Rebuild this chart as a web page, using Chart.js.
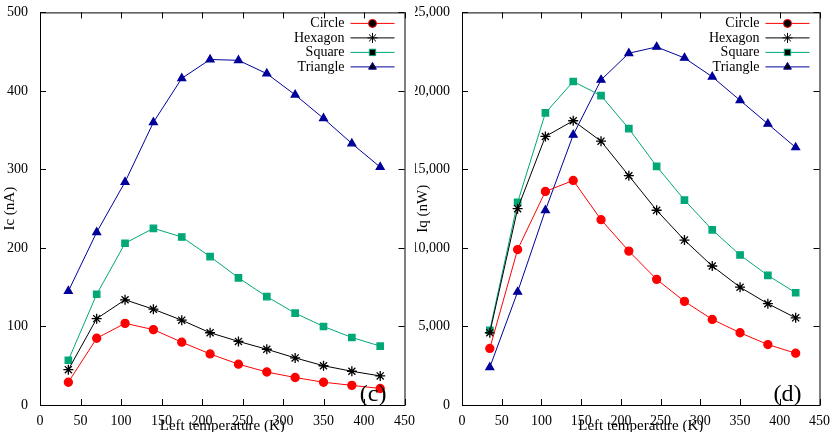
<!DOCTYPE html>
<html><head><meta charset="utf-8">
<script src="https://cdn.jsdelivr.net/npm/chart.js@4.4.0/dist/chart.umd.min.js"></script>
<style>
body{margin:0;background:#fff;width:830px;height:432px;overflow:hidden;font-family:"Liberation Serif",serif}
.w{position:absolute;top:0;height:432px;width:415px}
</style></head><body>
<div class="w" style="left:0"><canvas id="c1"></canvas></div>
<div class="w" style="left:415px"><canvas id="c2"></canvas></div>
<script>
const temps = [35, 70, 105, 140, 175, 210, 245, 280, 315, 350, 385, 420];
const seriesNames = ['Circle', 'Hexagon', 'Square', 'Triangle'];
const icCircle   = [29, 85, 104, 96, 80, 65, 52, 42, 35, 29, 25, 21];
const icHexagon  = [45, 110, 134, 122, 108, 92, 81, 71, 60, 50, 43, 37];
const icSquare   = [57, 141, 206, 225, 214, 189, 162, 138, 117, 100, 86, 75];
const icTriangle = [145, 220, 284, 360, 416, 440, 439, 422, 395, 365, 333, 303];
const iqCircle   = [3600, 9900, 13600, 14300, 11800, 9800, 8000, 6600, 5450, 4600, 3850, 3300];
const iqHexagon  = [4600, 12500, 17100, 18100, 16800, 14600, 12400, 10500, 8850, 7500, 6450, 5550];
const iqSquare   = [4750, 12900, 18600, 20600, 19700, 17600, 15200, 13050, 11150, 9550, 8250, 7150];
const iqTriangle = [2400, 7200, 12400, 17200, 20700, 22400, 22800, 22100, 20900, 19400, 17900, 16400];

const STYLES = [
  { color: '#ff0000', point: 'circle', r: 4 },
  { color: '#000000', point: 'star', r: 5 },
  { color: '#00a878', point: 'rect', r: 4.5 },
  { color: '#00009a', point: 'triangle', r: 4.5 },
];
const FONT = 'Liberation Serif';

// gnuplot-like frame, inward ticks, legend, axis titles, panel tag
const framePlugin = {
  id: 'frame',
  afterDraw(chart, args, o) {
    const { ctx, chartArea: a, scales: { x, y } } = chart;
    ctx.save();
    ctx.strokeStyle = '#000'; ctx.lineWidth = 1;
    ctx.strokeRect(a.left + 0.5, a.top + 0.5, a.right - a.left, a.bottom - a.top);
    ctx.beginPath();
    x.ticks.forEach(t => {
      const px = Math.round(x.getPixelForValue(t.value)) + 0.5;
      ctx.moveTo(px, a.bottom); ctx.lineTo(px, a.bottom - 6);
      ctx.moveTo(px, a.top); ctx.lineTo(px, a.top + 6);
    });
    y.ticks.forEach(t => {
      const py = Math.round(y.getPixelForValue(t.value)) + 0.5;
      ctx.moveTo(a.left, py); ctx.lineTo(a.left + 6, py);
      ctx.moveTo(a.right, py); ctx.lineTo(a.right - 6, py);
    });
    ctx.stroke();
    // legend
    ctx.font = `14px "${FONT}"`; ctx.textAlign = 'right'; ctx.textBaseline = 'middle';
    chart.data.datasets.forEach((ds, i) => {
      const ly = a.top + 11 + i * 14.5;
      const lx = a.right - 10;
      ctx.fillStyle = '#000';
      ctx.fillText(ds.label, lx - 50, ly);
      ctx.strokeStyle = ds.borderColor; ctx.lineWidth = 1;
      ctx.beginPath(); ctx.moveTo(lx - 44, ly); ctx.lineTo(lx, ly); ctx.stroke();
      Chart.helpers.drawPoint(ctx, { pointStyle: ds.pointStyle, radius: ds.pointRadius, borderWidth: 1.3 }, lx - 22, ly);
    });
    ctx.fillStyle = '#000'; ctx.font = `15px "${FONT}"`; ctx.textAlign = 'center';
    ctx.fillText('Left temperature (K)', (a.left + a.right) / 2, 426);
    ctx.save(); ctx.translate(o.ytx, (a.top + a.bottom) / 2); ctx.rotate(-Math.PI / 2);
    ctx.fillText(o.ytitle, 0, 0); ctx.restore();
    ctx.font = `24px "${FONT}"`; ctx.textAlign = 'right'; ctx.textBaseline = 'alphabetic';
    ctx.fillText(o.tag, a.right - 18, a.bottom - 4);
    ctx.restore();
  }
};

function makeChart(id, data, yMax, yStep, yAxisW, padRight, ytitle, ytx, tag) {
  const datasets = data.map((d, i) => ({
    label: seriesNames[i],
    data: temps.map((t, j) => ({ x: t, y: d[j] })),
    borderColor: STYLES[i].color,
    backgroundColor: STYLES[i].color,
    pointStyle: STYLES[i].point,
    pointRadius: STYLES[i].r,
    pointBorderWidth: 1.3,
    borderWidth: 1,
    tension: 0,
  }));
  const tickFont = { family: FONT, size: 14 };
  return new Chart(document.getElementById(id), {
    type: 'line',
    data: { datasets },
    plugins: [framePlugin],
    options: {
      responsive: true, maintainAspectRatio: false, animation: false,
      layout: { padding: { top: 8, right: padRight, left: 0, bottom: 0 } },
      plugins: { legend: { display: false }, tooltip: { enabled: false },
        frame: { ytitle, ytx, tag } },
      scales: {
        x: { type: 'linear', min: 0, max: 450,
          ticks: { stepSize: 50, color: '#000', font: tickFont, padding: 0, maxRotation: 0 },
          grid: { display: false }, border: { display: false },
          afterFit: s => { s.height = 27; } },
        y: { min: 0, max: yMax,
          ticks: { stepSize: yStep, color: '#000', font: tickFont, padding: 4 },
          grid: { display: false }, border: { display: false },
          afterFit: s => { s.width = yAxisW; } },
      },
    },
  });
}

makeChart('c1', [icCircle, icHexagon, icSquare, icTriangle], 500, 100, 40, 8, 'Ic (nA)', 10, '(c)');
makeChart('c2', [iqCircle, iqHexagon, iqSquare, iqTriangle], 25000, 5000, 47, 3, 'Iq (nW)', 8, '(d)');
</script>
</body></html>
